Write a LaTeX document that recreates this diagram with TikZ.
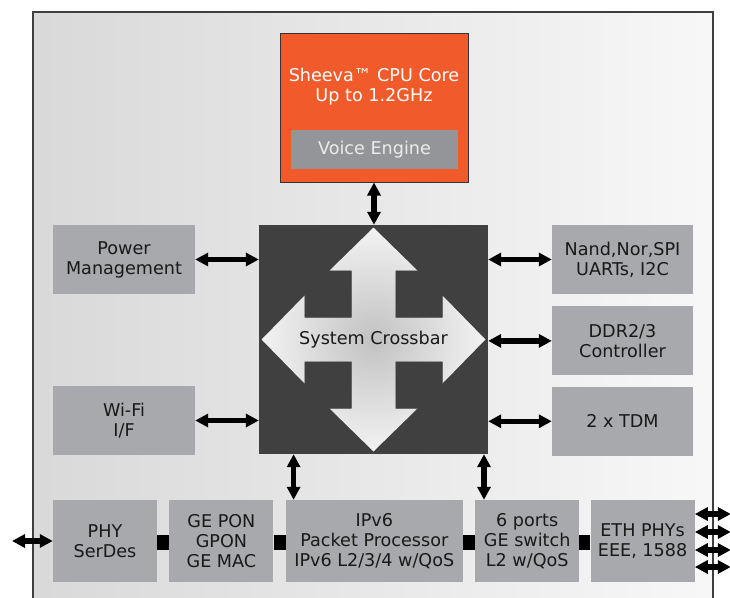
\documentclass[tikz,border=0pt]{standalone}
\usepackage{fontspec}
\setmainfont{DejaVu Sans}
\usetikzlibrary{arrows.meta, positioning}
\definecolor{sheeva}{HTML}{F15A2B}
\definecolor{boxgray}{HTML}{A7A9AC}
\definecolor{voicegray}{HTML}{939598}
\definecolor{xbargray}{HTML}{404041}
\definecolor{framegray}{HTML}{3F3F3F}

\begin{document}
\begin{tikzpicture} [x=1pt, y=-1pt, font=\fontsize{17.6}{20}\selectfont,
    block/.style={fill=boxgray, text=black!90, align=center, inner sep=0pt,
        minimum width=104pt, minimum height=82pt},
    side/.style={block, minimum width=141pt, minimum height=69pt},
    bus/.style={{Triangle[length=13pt,width=13pt]}-{Triangle[length=13pt,width=13pt]}, line width=5.5pt},
    link/.style={line width=15pt}]

\useasboundingbox (0,0) rectangle (730,597);
\fill[white] (0,0) rectangle (730,597);
\draw[line width=2pt, draw=framegray, left color=black!15, right color=black!3] (33,12) rectangle (713,612);

\node (cpu) [draw=black!80, line width=1pt, fill=sheeva, inner sep=0pt,
    minimum width=188pt, minimum height=149pt] at (374,107.5) {};
\node (cpulabel) [text=white, align=center] at (374,86.5) {Sheeva™ CPU Core\\Up to 1.2GHz};
\node (voice) [fill=voicegray, text=black!8, inner sep=0pt,
    minimum width=167pt, minimum height=39pt] at (374.5,149.5) {Voice Engine};

\node (xbar) [fill=xbargray, inner sep=0pt, minimum size=229pt] at (373.5,339.5) {};
\fill[inner color=black!24, outer color=black!5, shift={(xbar.center)}]
    (0,-112) -- (44,-69) -- (22,-69) -- (22,-22) -- (69,-22) -- (69,-44) -- (112,0)
    -- (69,44) -- (69,22) -- (22,22) -- (22,69) -- (44,69) -- (0,112)
    -- (-44,69) -- (-22,69) -- (-22,22) -- (-69,22) -- (-69,44) -- (-112,0)
    -- (-69,-44) -- (-69,-22) -- (-22,-22) -- (-22,-69) -- (-44,-69) -- cycle;
\node (xbarlabel) [text=black!90] at (xbar.center) {System Crossbar};

\node (power) [side, minimum width=142pt] at (124,259.5) {Power\\Management};
\node (wifi) [side, minimum width=142pt] at (124,420.5) {Wi-Fi\\I/F};
\node (nand) [side] at (622.5,259.5) {Nand,Nor,SPI\\UARTs, I2C};
\node (ddr) [side, below=12pt of nand] {DDR2/3\\Controller};
\node (tdm) [side, below=11pt of ddr] {2 x TDM};

\node (phy) [block] at (105,541) {PHY\\SerDes};
\node (gepon) [block, right=12pt of phy] {GE PON\\GPON\\GE MAC};
\node (ipv6) [block, minimum width=177pt, right=12pt of gepon] {IPv6\\Packet Processor\\IPv6 L2/3/4 w/QoS};
\node (sw) [block, right=12pt of ipv6] {6 ports\\GE switch\\L2 w/QoS};
\node (eth) [block, right=11pt of sw] {ETH PHYs\\EEE, 1588};

\draw [bus] (cpu.south) -- (cpu.south |- xbar.north);
\draw [bus] (power.east) -- (power.east -| xbar.west);
\draw [bus] (wifi.east) -- (wifi.east -| xbar.west);
\draw [bus] (nand.west) -- (nand.west -| xbar.east);
\draw [bus] (ddr.west) -- (ddr.west -| xbar.east);
\draw [bus] (tdm.west) -- (tdm.west -| xbar.east);

\coordinate (tapa) at ([xshift=8pt]ipv6.north west);
\coordinate (tapb) at ([xshift=9pt]sw.north west);
\draw [bus] (tapa |- xbar.south) -- (tapa);
\draw [bus] (tapb |- xbar.south) -- (tapb);

\foreach \a/\b in {phy/gepon, gepon/ipv6, ipv6/sw, sw/eth}
    \draw [link] ([yshift=-1.5pt]\a.east) -- ([yshift=-1.5pt]\b.west);

\coordinate (ext) at (12,541);
\draw [bus] (ext) -- (phy.west);
\foreach \dy [count=\i] in {27,9,-9,-26} {
    \coordinate (port\i) at ([yshift=\dy pt]eth.east);
    \draw [bus] (port\i) -- ++(36,0);
}

\end{tikzpicture}
\end{document}
